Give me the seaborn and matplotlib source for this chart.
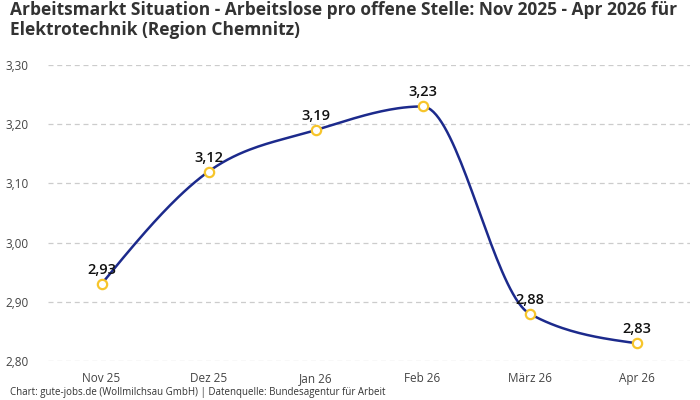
import numpy as np
import pandas as pd
import matplotlib
matplotlib.use("Agg")
import matplotlib.pyplot as plt
import seaborn as sns

# Daten
monate = ["Nov 25", "Dez 25", "Jan 26", "Feb 26", "März 26", "Apr 26"]
werte = [2.93, 3.12, 3.19, 3.23, 2.88, 2.83]
y_ticks = [2.80, 2.90, 3.00, 3.10, 3.20, 3.30]

titel = ("Arbeitsmarkt Situation - Arbeitslose pro offene Stelle: Nov 2025 - Apr 2026 für\n"
         "Elektrotechnik (Region Chemnitz)")
quelle = "Chart: gute-jobs.de (Wollmilchsau GmbH) | Datenquelle: Bundesagentur für Arbeit"

LINIE = "#1c2a8c"
PUNKT = "#f7c52b"


def monotone_kurve(x, y, n=40):
    """Monotone kubische Kurve (wie d3 curveMonotoneX) für die Liniendarstellung."""
    x = np.asarray(x, float)
    y = np.asarray(y, float)
    h = np.diff(x)
    s = np.diff(y) / h
    t = np.zeros(len(x))
    for i in range(1, len(x) - 1):
        p = (s[i - 1] * h[i] + s[i] * h[i - 1]) / (h[i - 1] + h[i])
        t[i] = (np.sign(s[i - 1]) + np.sign(s[i])) * min(abs(s[i - 1]), abs(s[i]), 0.5 * abs(p))
    t[0] = (3 * s[0] - t[1]) / 2
    t[-1] = (3 * s[-1] - t[-2]) / 2
    xs, ys = [], []
    for i in range(len(x) - 1):
        dx = h[i] / 3
        p0 = np.array([x[i], y[i]])
        p1 = np.array([x[i] + dx, y[i] + dx * t[i]])
        p2 = np.array([x[i + 1] - dx, y[i + 1] - dx * t[i + 1]])
        p3 = np.array([x[i + 1], y[i + 1]])
        u = np.linspace(0, 1, n)[:, None]
        b = (1 - u) ** 3 * p0 + 3 * (1 - u) ** 2 * u * p1 + 3 * (1 - u) * u ** 2 * p2 + u ** 3 * p3
        xs.extend(b[:, 0])
        ys.extend(b[:, 1])
    return np.array(xs), np.array(ys)


sns.set_theme(style="white")
plt.rcParams["font.family"] = ["Open Sans", "DejaVu Sans"]

df = pd.DataFrame({"pos": np.arange(len(monate)), "wert": werte})
kx, ky = monotone_kurve(df["pos"], df["wert"])
kurve = pd.DataFrame({"pos": kx, "wert": ky})

fig = plt.figure(figsize=(7, 4), dpi=100)
ax = fig.add_axes([48 / 700, 1 - 361 / 400, 642 / 700, 296 / 400])

for yt in y_ticks:
    ax.axhline(yt, color="#cccccc", lw=0.9, ls=(0, (4, 3)), zorder=0)

sns.lineplot(data=kurve, x="pos", y="wert", ax=ax, color=LINIE, lw=1.8, sort=False, zorder=2)
sns.scatterplot(data=df, x="pos", y="wert", ax=ax, s=45, color="white",
                edgecolor=PUNKT, linewidth=1.6, zorder=3, clip_on=False)

for xp, v in zip(df["pos"], werte):
    ax.annotate(f"{v:.2f}".replace(".", ","), (xp, v), xytext=(0, 5),
                textcoords="offset points", ha="center", va="bottom",
                fontsize=10.5, fontweight="semibold", color="#111111")

ax.set_xlim(-0.5, len(monate) - 0.5)
ax.set_ylim(2.80, 3.30)
ax.set_xticks(df["pos"])
ax.set_xticklabels(monate)
ax.set_yticks(y_ticks)
ax.set_yticklabels([f"{v:.2f}".replace(".", ",") for v in y_ticks])
ax.tick_params(axis="both", length=0, labelsize=8.5, colors="#444444")
ax.tick_params(axis="y", pad=14)
ax.tick_params(axis="x", pad=8)
ax.set_xlabel("")
ax.set_ylabel("")
for sp in ax.spines.values():
    sp.set_visible(False)

fig.text(10 / 700, 1 - 1 / 400, titel, ha="left", va="top", fontsize=12.5,
         fontweight="bold", color="#333333", linespacing=1.15)
fig.text(10 / 700, 1 - 393 / 400, quelle, ha="left", va="center", fontsize=7, color="#333333")

fig.savefig("out.png", dpi=100)
plt.close(fig)
